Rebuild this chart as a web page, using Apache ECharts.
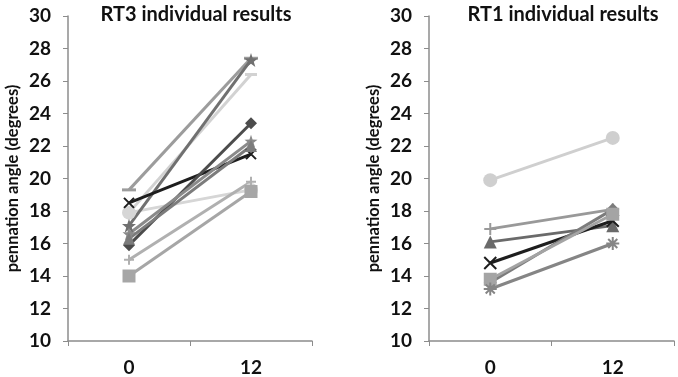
<!DOCTYPE html>
<html><head><meta charset="utf-8">
<script src="https://cdn.jsdelivr.net/npm/echarts@6/dist/echarts.min.js"></script>
<style>html,body{margin:0;padding:0;background:#fff}#c{width:678px;height:377px}</style>
</head><body><div id="c"></div>
<script>
var categories = ['0', '12'];
var yTicks = [10, 12, 14, 16, 18, 20, 22, 24, 26, 28, 30];
var titles = ['RT3 individual results', 'RT1 individual results'];
var yName = 'pennation angle (degrees)';

// RT3 (left)
var rt3_dash = [19.3, 27.4];
var rt3_circle = [17.9, 19.3];
var rt3_lightdash = [17.9, 26.4];
var rt3_star = [17.1, 27.3];
var rt3_x = [18.5, 21.5];
var rt3_diamond = [15.9, 23.4];
var rt3_asterisk = [16.6, 22.3];
var rt3_triangle = [16.3, 22.0];
var rt3_plus = [15.0, 19.8];
var rt3_square = [14.0, 19.2];

// RT1 (right)
var rt1_circle = [19.9, 22.5];
var rt1_plus = [16.9, 18.1];
var rt1_triangle = [16.1, 17.1];
var rt1_x = [14.8, 17.4];
var rt1_square = [13.8, 17.8];
var rt1_diamond = [13.6, 18.1];
var rt1_asterisk = [13.2, 16.0];

var SYM = {
  x: 'path://M0,0L10,10M10,0L0,10',
  plus: 'path://M5,0L5,10M0,5L10,5',
  star: 'path://M5,0L6.2,3.6L10,3.7L7,6L8.1,9.6L5,7.5L1.9,9.6L3,6L0,3.7L3.8,3.6Z',
  asterisk: 'path://M5,0L5,10M0,5L10,5M1.5,1.5L8.5,8.5M8.5,1.5L1.5,8.5'
};

function mk(name, data, grid, color, symbol, size, stroke) {
  var s = {
    name: name, type: 'line', xAxisIndex: grid, yAxisIndex: grid, data: data,
    symbol: symbol, symbolSize: size, showSymbol: true,
    lineStyle: {color: color, width: 3},
    itemStyle: {color: color},
    z: 2
  };
  if (stroke) {
    s.itemStyle = {color: 'none', borderColor: color, borderWidth: 2};
  }
  return s;
}

var series = [
  mk('a', rt3_dash, 0, '#9c9c9c', 'rect', [14, 3]),
  mk('b', rt3_lightdash, 0, '#d2d2d2', 'rect', [12, 3]),
  mk('c', rt3_circle, 0, '#d6d6d6', 'circle', 14),
  mk('d', rt3_star, 0, '#707070', SYM.star, 14),
  mk('e', rt3_x, 0, '#1e1e1e', SYM.x, 10, true),
  mk('f', rt3_diamond, 0, '#4c4c4c', 'diamond', 12),
  mk('g', rt3_asterisk, 0, '#8a8a8a', SYM.star, 13),
  mk('h', rt3_triangle, 0, '#7c7c7c', 'triangle', 12),
  mk('i', rt3_plus, 0, '#b0b0b0', SYM.plus, 10, true),
  mk('j', rt3_square, 0, '#a6a6a6', 'rect', 13),

  mk('k', rt1_circle, 1, '#cfcfcf', 'circle', 14),
  mk('l', rt1_plus, 1, '#999999', SYM.plus, 12, true),
  mk('m', rt1_triangle, 1, '#6a6a6a', 'triangle', 13),
  mk('n', rt1_x, 1, '#1e1e1e', SYM.x, 12, true),
  mk('o', rt1_diamond, 1, '#7c7c7c', 'diamond', 13),
  mk('p', rt1_square, 1, '#a4a4a4', 'rect', 13),
  mk('q', rt1_asterisk, 1, '#858585', SYM.asterisk, 13, true)
];

var FONT = 'Lato';
function xAx(i) {
  return {
    type: 'category', gridIndex: i, data: categories, boundaryGap: true,
    axisLine: {lineStyle: {color: '#8c8c8c', width: 1.5}},
    axisTick: {show: true, length: 5, lineStyle: {color: '#8c8c8c'}},
    axisLabel: {color: '#111', fontSize: 19, fontWeight: 'bold', fontFamily: FONT, margin: 17},
    splitLine: {show: false}
  };
}
function yAx(i) {
  return {
    type: 'value', gridIndex: i, min: yTicks[0], max: yTicks[yTicks.length - 1], interval: 2,
    name: yName, nameLocation: 'middle', nameGap: 47, nameRotate: 90,
    nameTextStyle: {color: '#111', fontSize: 16.5, fontWeight: 'bold', fontFamily: FONT},
    axisLine: {show: true, lineStyle: {color: '#8c8c8c', width: 1.5}},
    axisTick: {show: true, length: 5, lineStyle: {color: '#8c8c8c'}},
    axisLabel: {color: '#111', fontSize: 19, fontWeight: 'bold', fontFamily: FONT, margin: 17},
    splitLine: {show: false}
  };
}

var chart = echarts.init(document.getElementById('c'), null, {renderer: 'canvas'});
chart.setOption({
  animation: false,
  backgroundColor: '#fff',
  title: [
    {text: titles[0], left: 191, top: 0, textAlign: 'center',
     textStyle: {fontSize: 20, fontWeight: 'bold', color: '#111', fontFamily: FONT}},
    {text: titles[1], left: 558, top: 0, textAlign: 'center',
     textStyle: {fontSize: 20, fontWeight: 'bold', color: '#111', fontFamily: FONT}}
  ],
  grid: [
    {left: 68, top: 16, width: 244, height: 325},
    {left: 429, top: 16, width: 245, height: 325}
  ],
  xAxis: [xAx(0), xAx(1)],
  yAxis: [yAx(0), yAx(1)],
  series: series
});
</script></body></html>
